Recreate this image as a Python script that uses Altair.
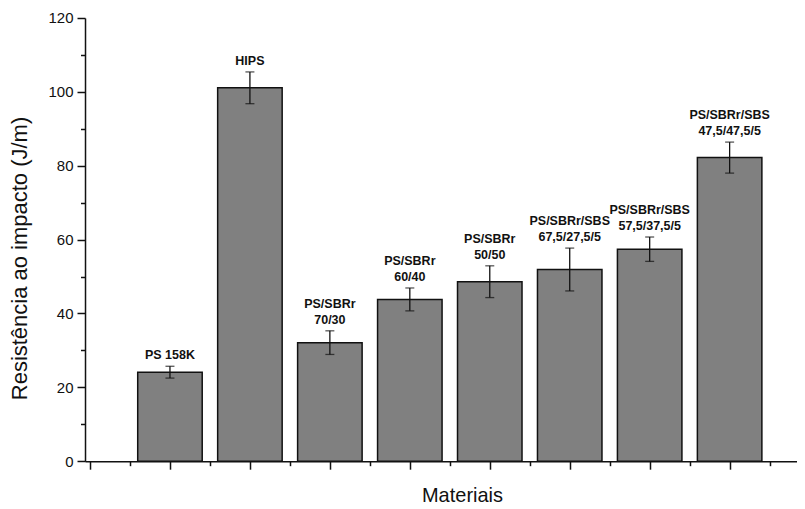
import altair as alt
import pandas as pd

# Data
label_line1 = ["", "", "PS/SBRr", "PS/SBRr", "PS/SBRr",
               "PS/SBRr/SBS", "PS/SBRr/SBS", "PS/SBRr/SBS"]
label_line2 = ["PS 158K", "HIPS", "70/30", "60/40", "50/50",
               "67,5/27,5/5", "57,5/37,5/5", "47,5/47,5/5"]
means = [24.1, 101.1, 32.1, 43.8, 48.6, 51.9, 57.4, 82.2]
errors = [1.6, 4.3, 3.2, 3.1, 4.3, 5.8, 3.3, 4.2]

y_ticks = list(range(0, 121, 10))
x_ticks = [i * 0.5 for i in range(18)]

df = pd.DataFrame({
    "line1": label_line1,
    "line2": label_line2,
    "mean": means,
    "err": errors,
    "pos": list(range(1, len(means) + 1)),
})

FONT = "Liberation Sans"
INK = "#111111"

xscale = alt.Scale(domain=[0, 8.78], nice=False, zero=False)
yscale = alt.Scale(domain=[0, 120], nice=False)

xaxis = alt.Axis(
    values=x_ticks, labels=False, grid=False,
    tickSize={"condition": {"test": "datum.value % 1 === 0", "value": 8}, "value": 4.5},
    tickWidth=1.5, tickColor=INK, domainColor=INK, domainWidth=1.5,
    title="Materiais", titleFont=FONT, titleFontSize=20, titleFontWeight="normal",
    titleColor=INK, titlePadding=16, titleX=377, titleAlign="center",
)
yaxis = alt.Axis(
    values=y_ticks, grid=False,
    labelExpr="datum.value % 20 === 0 ? datum.label : ''",
    tickSize={"condition": {"test": "datum.value % 20 === 0", "value": 8}, "value": 4.5},
    tickWidth=1.5, tickColor=INK, domainColor=INK, domainWidth=1.5,
    labelFont=FONT, labelFontSize=15, labelColor=INK, labelPadding=4,
    title="Resistência ao impacto (J/m)", titleFont=FONT, titleFontSize=22,
    titleFontWeight="normal", titleColor=INK, titlePadding=16, titleY=240,
    titleAlign="center",
)

base = alt.Chart(df)

bars = base.mark_bar(size=64.5, color="#808080", stroke=INK, strokeWidth=1.5).encode(
    x=alt.X("pos:Q", scale=xscale, axis=xaxis),
    y=alt.Y("mean:Q", scale=yscale, axis=yaxis),
)

err_base = base.transform_calculate(
    lo="datum.mean - datum.err", hi="datum.mean + datum.err"
)

rules = err_base.mark_rule(color=INK, strokeWidth=1.3).encode(
    x=alt.X("pos:Q", scale=xscale, axis=xaxis),
    y=alt.Y("lo:Q", scale=yscale, axis=yaxis),
    y2="hi:Q",
)

caps = err_base.transform_fold(["lo", "hi"], as_=["which", "val"]).mark_tick(
    orient="horizontal", size=9, thickness=1.3, color=INK
).encode(
    x=alt.X("pos:Q", scale=xscale, axis=xaxis),
    y=alt.Y("val:Q", scale=yscale, axis=yaxis),
)

text_style = dict(baseline="alphabetic", align="center",
                  font=FONT, fontSize=12.5, fontWeight="bold", color=INK)

labels2 = err_base.mark_text(dy=-7, **text_style).encode(
    x=alt.X("pos:Q", scale=xscale, axis=xaxis),
    y=alt.Y("hi:Q", scale=yscale, axis=yaxis),
    text="line2:N",
)
labels1 = err_base.mark_text(dy=-23, **text_style).encode(
    x=alt.X("pos:Q", scale=xscale, axis=xaxis),
    y=alt.Y("hi:Q", scale=yscale, axis=yaxis),
    text="line1:N",
)

chart = alt.layer(bars, rules, caps, labels2, labels1).properties(
    width=712, height=443.2,
    autosize=alt.AutoSizeParams(type="none"),
    padding={"left": 77, "top": 10, "right": 0, "bottom": 50},
    background="white",
).configure_view(strokeWidth=0)

chart.save("out.html", embed_options={"renderer": "svg", "actions": False})
